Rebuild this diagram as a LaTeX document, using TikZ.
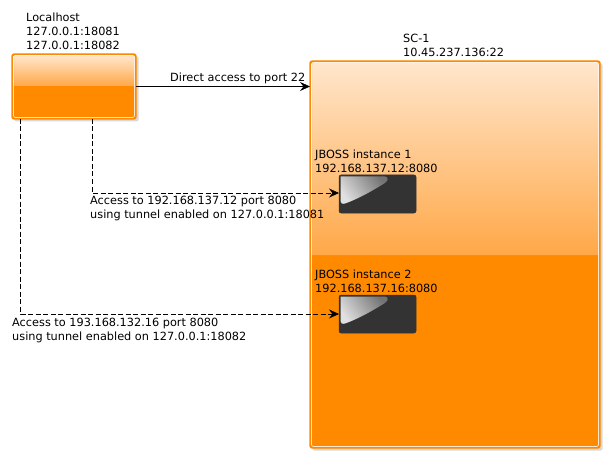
\documentclass[tikz,border=0pt]{standalone}
\usepackage{fontspec}
\setmainfont{DejaVu Sans}
\usetikzlibrary{arrows.meta,shadows}

\definecolor{boxorange}{HTML}{FF8A00}
\definecolor{boxlight}{HTML}{FFE6CC}
\definecolor{boxmid}{HTML}{FFA848}
\definecolor{jbossdark}{HTML}{333333}

\tikzset{
    label text/.style={inner sep=0pt,align=left,anchor=north west,font=\fontsize{11.3}{14}\selectfont},
    glossy box/.style={draw=boxorange,line width=1.2pt,rounded corners=2pt,fill=boxorange,
        drop shadow={shadow xshift=2.5pt,shadow yshift=-2.5pt,opacity=0.3},
        inner sep=0pt,outer sep=0pt,anchor=north west},
    host box/.style={glossy box,minimum width=124pt,minimum height=65pt},
    server box/.style={glossy box,minimum width=290pt,minimum height=387pt},
    jboss box/.style={draw=jbossdark,rounded corners=2pt,fill=jbossdark,line width=0.5pt,
        minimum width=77pt,minimum height=38pt,inner sep=0pt,outer sep=0pt,anchor=north west},
    tunnel/.style={->,dashed,dash pattern=on 5pt off 2.5pt,line width=0.6pt},
}

\begin{document}
\begin{tikzpicture}[x=1pt,y=-1pt,>={Stealth[length=10pt,width=9pt,inset=3.5pt]}]
        \useasboundingbox (0,0) rectangle (615,465);

        % the two orange boxes
        \node[host box] (localhost) at (12,54) {};
        \shade[top color=boxlight,bottom color=boxmid,rounded corners=1pt] (13.5,55.5) rectangle (134.5,86);
        \draw[white,opacity=0.8,line width=0.6pt,rounded corners=1.5pt] (13.5,55.5) rectangle (134.5,117.5);

        \node[server box] (server) at (310,61) {};
        \shade[top color=boxlight,bottom color=boxmid,rounded corners=1pt] (311.5,62.5) rectangle (598.5,255);
        \draw[white,opacity=0.8,line width=0.6pt,rounded corners=1.5pt] (311.5,62.5) rectangle (598.5,446.5);

        % the two instances
        \foreach \name/\ypos in {jbossone/175,jbosstwo/295} {
                \node[jboss box] (\name) at (339,\ypos) {};
                \shade[left color=white!88!black,right color=black!55!white,shading angle=125]
                    (340.5,\ypos+1.5) -- (385,\ypos+1.5)
                    .. controls (388,\ypos+2) and (389,\ypos+5) .. (385,\ypos+8)
                    .. controls (372,\ypos+16) and (358,\ypos+24) .. (345,\ypos+28.5)
                    .. controls (342,\ypos+29.5) and (340.5,\ypos+28) .. (340.5,\ypos+25) -- cycle;
        }

        % the labels
        \node[label text] (localhostlabel) at (26,12.5) {Localhost\\127.0.0.1:18081\\127.0.0.1:18082};
        \node[label text] (serverlabel) at (403,34) {SC-1\\10.45.237.136:22};
        \node[label text] (directlabel) at (170,73) {Direct access to port 22};
        \node[label text] (jbossonelabel) at (315,150) {JBOSS instance 1\\192.168.137.12:8080};
        \node[label text] (jbosstwolabel) at (315,270) {JBOSS instance 2\\192.168.137.16:8080};
        \node[label text] (tunnelonelabel) at (90,195.5) {Access to 192.168.137.12 port 8080\\using tunnel enabled on 127.0.0.1:18081};
        \node[label text] (tunneltwolabel) at (12,317.5) {Access to 193.168.132.16 port 8080\\using tunnel enabled on 127.0.0.1:18082};

        % the connectors
        \coordinate (tapone) at (92,119);
        \coordinate (taptwo) at (20.5,119);
        \draw[->,line width=0.7pt] (localhost.east) -- (server.west |- localhost.east);
        \draw[tunnel] (tapone) |- ([yshift=1pt]jbossone.west);
        \draw[tunnel] (taptwo) |- (jbosstwo.west);
\end{tikzpicture}
\end{document}
